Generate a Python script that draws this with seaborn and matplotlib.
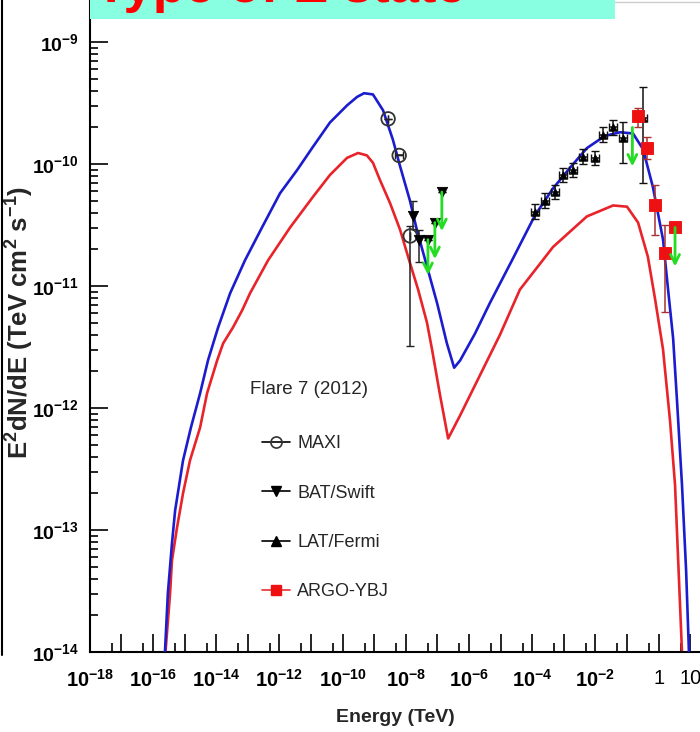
import numpy as np
import pandas as pd
import matplotlib
matplotlib.use("Agg")
import matplotlib.pyplot as plt
import seaborn as sns
from matplotlib.ticker import FixedLocator, FuncFormatter, NullFormatter
from matplotlib.lines import Line2D
from matplotlib.patches import Rectangle

# ---------------- data (log10 values) ----------------
blue_logE = [-15.65, -15.53, -15.40, -15.30, -15.05, -14.80, -14.51, -14.26, -13.94, -13.56,
             -13.09, -12.55, -11.98, -11.44, -10.94, -10.40, -9.86, -9.54, -9.32, -9.04,
             -8.72, -8.41, -8.18, -7.87, -7.65, -7.33, -7.01, -6.70, -6.47, -6.28,
             -5.81, -5.34, -4.64, -3.91, -3.34, -2.80, -2.27, -1.70, -1.22, -0.81,
             -0.49, -0.18, 0.14, 0.30, 0.46, 0.58, 0.74, 0.87, 0.96, 1.03]
blue_logF = [-14.15, -13.52, -13.11, -12.84, -12.43, -12.16, -11.88, -11.61, -11.34, -11.06,
             -10.79, -10.52, -10.24, -10.05, -9.86, -9.66, -9.52, -9.45, -9.42, -9.43,
             -9.56, -9.80, -10.02, -10.30, -10.54, -10.84, -11.14, -11.47, -11.67, -11.61,
             -11.39, -11.14, -10.79, -10.42, -10.20, -10.03, -9.87, -9.77, -9.74, -9.75,
             -9.88, -10.19, -10.62, -11.03, -11.43, -11.93, -12.63, -13.33, -14.00, -14.31]

red_logE = [-15.65, -15.46, -15.40, -15.24, -15.05, -14.83, -14.51, -14.29, -13.97, -13.78,
            -13.47, -13.18, -12.93, -12.36, -11.66, -10.94, -10.40, -9.86, -9.51, -9.23,
            -9.04, -8.82, -8.50, -8.18, -7.87, -7.61, -7.33, -7.17, -6.92, -6.66,
            -6.28, -5.65, -5.02, -4.39, -3.34, -2.27, -1.44, -1.00, -0.65, -0.34,
            -0.11, 0.14, 0.36, 0.52, 0.74, 0.80]
red_logF = [-14.15, -13.52, -13.25, -12.98, -12.70, -12.43, -12.16, -11.88, -11.61, -11.47,
            -11.34, -11.20, -11.06, -10.79, -10.52, -10.27, -10.09, -9.95, -9.91, -9.93,
            -9.99, -10.13, -10.32, -10.54, -10.81, -11.03, -11.30, -11.52, -11.89, -12.25,
            -12.06, -11.73, -11.40, -11.03, -10.68, -10.43, -10.34, -10.35, -10.48, -10.76,
            -11.11, -11.52, -12.10, -12.63, -14.00, -14.31]

# MAXI (open circles)
maxi_logE = [-8.56, -8.21, -7.86]
maxi_logF = [-9.63, -9.93, -10.59]
maxi_lo = [0.00, 0.00, 0.90]
maxi_hi = [0.00, 0.00, 0.08]
maxi_dx = [0.00, 0.12, 0.00]

# BAT/Swift (filled down triangles)
bat_logE = [-7.77, -7.58, -7.30, -7.08, -6.86]
bat_logF = [-10.43, -10.62, -10.62, -10.48, -10.23]
bat_lo = [0.10, 0.18, 0.00, 0.00, 0.00]
bat_hi = [0.13, 0.08, 0.00, 0.00, 0.00]

# LAT/Fermi (filled up triangles)
lat_logE = [-3.91, -3.59, -3.28, -3.03, -2.71, -2.39, -2.01, -1.76, -1.44, -1.13, -0.49]
lat_logF = [-10.39, -10.30, -10.23, -10.09, -10.05, -9.94, -9.95, -9.76, -9.70, -9.79, -9.62]
lat_lo = [0.06, 0.06, 0.06, 0.06, 0.06, 0.06, 0.06, 0.06, 0.06, 0.20, 0.54]
lat_hi = [0.06, 0.06, 0.06, 0.06, 0.06, 0.06, 0.06, 0.06, 0.06, 0.13, 0.25]
lat_dx = [0.13, 0.13, 0.13, 0.13, 0.13, 0.13, 0.13, 0.13, 0.13, 0.13, 0.13]

# ARGO-YBJ (red squares)
argo_logE = [-0.66, -0.37, -0.11, 0.21, 0.52]
argo_logF = [-9.61, -9.87, -10.34, -10.73, -10.52]
argo_lo = [0.09, 0.09, 0.24, 0.48, 0.00]
argo_hi = [0.07, 0.09, 0.17, 0.23, 0.00]

# upper limits (green arrows)
ul_logE = [-7.30, -7.08, -6.86, -0.83, 0.52]
ul_from = [-10.62, -10.48, -10.23, -9.70, -10.52]
ul_to = [-10.91, -10.78, -10.55, -10.02, -10.84]

x_major_exp = list(range(-18, 2))
y_major_exp = list(range(-14, -8))
legend_title = "Flare 7 (2012)"
legend_labels = ["MAXI", "BAT/Swift", "LAT/Fermi", "ARGO-YBJ"]
banner_text = "Type of E state"

BLUE = "#1c1ccf"
RED = "#e8232a"
GREEN = "#22dd22"
ARGO_ERR = "#a83232"

# ---------------- style ----------------
sns.set_style("ticks")
FONT = "Liberation Sans"
plt.rcParams["font.family"] = [FONT, "DejaVu Sans"]
plt.rcParams["mathtext.fontset"] = "custom"
plt.rcParams["mathtext.rm"] = FONT + ":bold"
plt.rcParams["mathtext.bf"] = FONT + ":bold"
plt.rcParams["mathtext.it"] = FONT + ":bold"
plt.rcParams["mathtext.default"] = "bf"

W, H = 700, 732
fig = plt.figure(figsize=(W / 100, H / 100), dpi=100)
x0, yb = 89.8, 652.0
ax = fig.add_axes([x0 / W, (H - yb) / H, (W - x0) / W, yb / H])
ax.set_xscale("log")
ax.set_yscale("log")
ax.set_xlim(1e-18, 10 ** 1.31)
ax.set_ylim(1e-14, 10 ** -8.656)

def tolin(a):
    return 10 ** np.asarray(a, dtype=float)

# model curves
df_blue = pd.DataFrame({"E": tolin(blue_logE), "F": tolin(blue_logF)})
df_red = pd.DataFrame({"E": tolin(red_logE), "F": tolin(red_logF)})
sns.lineplot(data=df_red, x="E", y="F", color=RED, lw=1.9, ax=ax, sort=False, estimator=None, zorder=2)
sns.lineplot(data=df_blue, x="E", y="F", color=BLUE, lw=1.9, ax=ax, sort=False, estimator=None, zorder=3)

def yerr(logF, lo, hi):
    F = tolin(logF)
    return [F - F * 10 ** -np.asarray(lo), F * 10 ** np.asarray(hi) - F]

def xerr(logE, dx):
    E = tolin(logE)
    return [E - E * 10 ** -np.asarray(dx), E * 10 ** np.asarray(dx) - E]

# error bars
ax.errorbar(tolin(maxi_logE), tolin(maxi_logF), yerr=yerr(maxi_logF, maxi_lo, maxi_hi),
            xerr=xerr(maxi_logE, maxi_dx), fmt="none", ecolor="#222222", elinewidth=1.1, capsize=3, zorder=4)
ax.errorbar(tolin(bat_logE), tolin(bat_logF), yerr=yerr(bat_logF, bat_lo, bat_hi),
            fmt="none", ecolor="#222222", elinewidth=1.1, capsize=3, zorder=4)
ax.errorbar(tolin(lat_logE), tolin(lat_logF), yerr=yerr(lat_logF, lat_lo, lat_hi),
            xerr=xerr(lat_logE, lat_dx), fmt="none", ecolor="#111111", elinewidth=1.1, capsize=3, zorder=4)
ax.errorbar(tolin(argo_logE), tolin(argo_logF), yerr=yerr(argo_logF, argo_lo, argo_hi),
            fmt="none", ecolor=ARGO_ERR, elinewidth=1.1, capsize=3, zorder=4)

# markers
sns.scatterplot(x=tolin(maxi_logE), y=tolin(maxi_logF), marker="o", s=95, facecolor="none",
                edgecolor="#333333", linewidth=1.3, ax=ax, zorder=5)
sns.scatterplot(x=tolin(bat_logE), y=tolin(bat_logF), marker="v", s=55, color="black",
                edgecolor="black", ax=ax, zorder=5)
sns.scatterplot(x=tolin(lat_logE), y=tolin(lat_logF), marker="^", s=30, color="black",
                edgecolor="black", ax=ax, zorder=5)
sns.scatterplot(x=tolin(argo_logE), y=tolin(argo_logF), marker="s", s=65, color="#ee1111",
                edgecolor="#ee1111", ax=ax, zorder=5)

# upper-limit arrows
for e, f0, f1 in zip(ul_logE, ul_from, ul_to):
    ax.annotate("", xy=(10 ** e, 10 ** f1), xytext=(10 ** e, 10 ** f0),
                arrowprops=dict(arrowstyle="->", color=GREEN, lw=2.0, mutation_scale=16,
                                shrinkA=0, shrinkB=0), zorder=6)

# ticks
def xfmt(v, pos):
    e = int(round(np.log10(v)))
    if e == 0:
        return "1"
    if e == 1:
        return "10"
    if e % 2 == 0:
        return r"$10^{%d}$" % e
    return ""

ax.xaxis.set_major_locator(FixedLocator([10.0 ** e for e in x_major_exp]))
ax.xaxis.set_minor_locator(FixedLocator([5 * 10.0 ** e for e in x_major_exp]))
ax.xaxis.set_major_formatter(FuncFormatter(xfmt))
ax.xaxis.set_minor_formatter(NullFormatter())
ax.yaxis.set_major_locator(FixedLocator([10.0 ** e for e in y_major_exp]))
ax.yaxis.set_minor_locator(FixedLocator([m * 10.0 ** e for e in y_major_exp for m in range(2, 10)]))
ax.yaxis.set_major_formatter(FuncFormatter(lambda v, p: r"$10^{%d}$" % int(round(np.log10(v)))))
ax.yaxis.set_minor_formatter(NullFormatter())

ax.tick_params(axis="both", which="both", direction="in", colors="black", width=1.2)
ax.tick_params(axis="x", which="major", length=13, pad=12, labelsize=14.5)
ax.tick_params(axis="x", which="minor", length=6.5)
ax.tick_params(axis="y", which="major", length=13, pad=8, labelsize=14)
ax.tick_params(axis="y", which="minor", length=6)
for s in ("top", "right"):
    ax.spines[s].set_visible(False)
for s in ("left", "bottom"):
    ax.spines[s].set_linewidth(1.5)
    ax.spines[s].set_color("black")

ax.set_xlabel("Energy (TeV)", fontsize=14, fontweight="bold", va="center")
ax.xaxis.set_label_coords(0.5, (yb - 717) / yb)
ax.set_ylabel(r"E$^{2}$dN/dE (TeV cm$^{2}$ s$^{-1}$)", fontsize=18.5, fontweight="bold", va="center")
ax.yaxis.set_label_coords((20 - x0) / (W - x0), (yb - 322) / yb)

# legend
handles = [
    Line2D([], [], color="black", lw=1.2, marker="o", mfc="none", mec="#333333", ms=8, mew=1.2),
    Line2D([], [], color="black", lw=1.2, marker="v", ms=7),
    Line2D([], [], color="black", lw=1.2, marker="^", ms=7),
    Line2D([], [], color="#e83030", lw=1.2, marker="s", mfc="#ee1111", mec="#ee1111", ms=7),
]
leg = ax.legend(handles, legend_labels, loc="upper left", bbox_to_anchor=(262 / W, 1 - 435 / H),
                bbox_transform=fig.transFigure, frameon=False, fontsize=13, handlelength=1.55,
                handletextpad=0.4, labelspacing=1.8, borderpad=0, borderaxespad=0)
fig.text(250 / W, 1 - 390 / H, legend_title, fontsize=13.5, ha="left", va="center")

# slide decorations: banner and frame
fig.patches.append(Rectangle((90 / W, 1 - 19 / H), (615 - 90) / W, 19 / H + 0.01,
                             transform=fig.transFigure, facecolor="#88ffe0", edgecolor="none", zorder=10))
fig.text(95 / W, 1 - 2 / H, banner_text, fontsize=38, fontweight="bold", color="#ff0000",
         family="Liberation Sans", ha="left", va="baseline", zorder=11)
fig.add_artist(Line2D([2 / W, 2 / W], [1 - 655 / H, 1], transform=fig.transFigure, color="black", lw=1.5))
fig.add_artist(Line2D([615 / W, 1], [1 - 1.5 / H, 1 - 1.5 / H], transform=fig.transFigure,
                      color="#cccccc", lw=1.0))

fig.savefig("out.png", dpi=100)
